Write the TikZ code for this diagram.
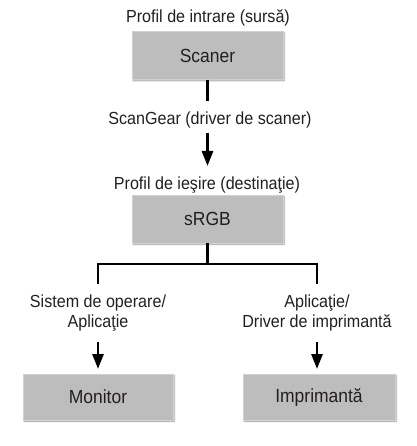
\documentclass[tikz,border=0pt]{standalone}
\usepackage{fontspec}
\setmainfont{Liberation Sans}
\newfontfamily\narrowfont[FakeStretch=0.92]{Liberation Sans}
\usetikzlibrary{arrows.meta,shadows.blur}
\definecolor{boxgray}{HTML}{BDBDBD}
\definecolor{boxedge}{HTML}{D2D2D2}
\definecolor{txt}{HTML}{231F20}
\begin{document}
\begin{tikzpicture}[x=1pt,y=-1pt,
  box/.style={fill=boxgray, draw=boxedge, line width=0.8pt, minimum width=151pt, minimum height=48pt,
    inner sep=0pt, text=txt, font=\narrowfont\fontsize{19}{22}\selectfont,
    blur shadow={shadow xshift=1.2pt, shadow yshift=-1.2pt, shadow blur radius=1.5pt, shadow blur steps=4, shadow opacity=45}},
  lbl/.style={text=txt, font=\narrowfont\fontsize{17.5}{19.5}\selectfont, inner sep=0pt},
  conn/.style={draw=black, line width=2.8pt},
  arr/.style={conn, -{Triangle[width=11pt,length=15pt]}}]
\useasboundingbox (0,0) rectangle (416,446);
\node[lbl] (inlbl) at (208,18) {Profil de intrare (sursă)};
\node[box] (scaner) at (207.5,55.5) {Scaner};
\node[lbl] (sg) at (210,120) {ScanGear (driver de scaner)};
\node[lbl] (outlbl) at (207,185) {Profil de ieşire (destinaţie)};
\node[box] (srgb) at (207.5,219) {sRGB};
\node[lbl, align=center] (oslbl) at (98,313) {Sistem de operare/\\Aplicaţie};
\node[lbl, align=center] (applbl) at (317,313) {Aplicaţie/\\Driver de imprimantă};
\node[box, minimum width=150pt, minimum height=46pt] (monitor) at (98,397) {Monitor};
\node[box, minimum width=152pt, minimum height=46pt] (printer) at (319,397) {Imprimantă};
\coordinate (c1) at (207.5,101);
\coordinate (c2) at (207.5,133);
\coordinate (c3) at (207.5,166);
\coordinate (j) at (207.5,264);
\coordinate (bl) at (98,284);
\coordinate (br) at (317,284);
\coordinate (la) at (98,342);
\coordinate (lt) at (98,369);
\coordinate (ra) at (317,342);
\coordinate (rt) at (317,369);
\draw[conn] (scaner.south) -- (c1);
\draw[arr] (c2) -- (c3);
\draw[conn] (srgb.south) -- (j);
\draw[conn] (bl) |- (j) -| (br);
\draw[arr] (la) -- (lt);
\draw[arr] (ra) -- (rt);
\end{tikzpicture}
\end{document}
